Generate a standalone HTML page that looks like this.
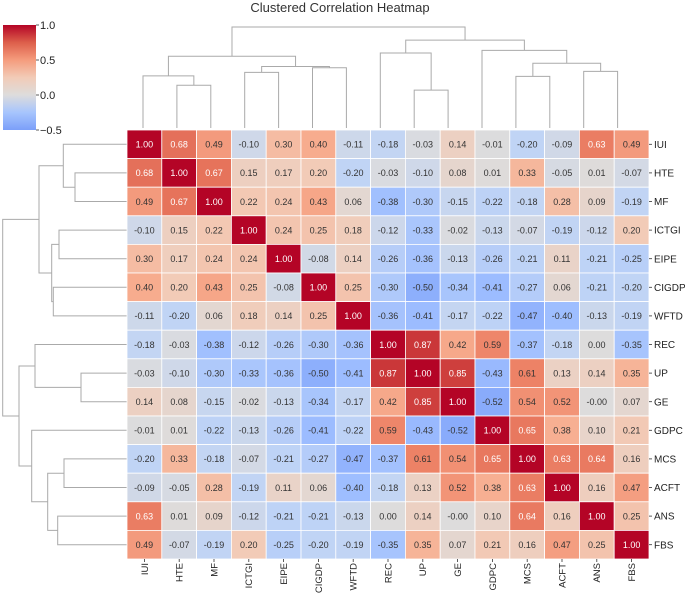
<!DOCTYPE html>
<html><head><meta charset="utf-8">
<style>
html,body{margin:0;padding:0;background:#fff;}
svg{display:block;font-family:"Liberation Sans","DejaVu Sans",sans-serif;}
</style></head>
<body>
<svg id="chart" width="685" height="593" viewBox="0 0 685 593" xmlns="http://www.w3.org/2000/svg">
<defs>
<linearGradient id="cbgrad" x1="0" y1="1" x2="0" y2="0">
<stop offset="0" stop-color="#7b9ff9"/>
<stop offset="0.167" stop-color="#a7c5fd"/>
<stop offset="0.333" stop-color="#dddcdc"/>
<stop offset="0.5" stop-color="#f2cbb7"/>
<stop offset="0.667" stop-color="#f59c7d"/>
<stop offset="0.833" stop-color="#dd5f4b"/>
<stop offset="1" stop-color="#b40426"/>
</linearGradient>
</defs>
<text x="340" y="12" text-anchor="middle" font-size="13" fill="#333">Clustered Correlation Heatmap</text>
<g id="colorbar">
<rect x="3" y="25" width="33" height="105" fill="url(#cbgrad)"/>
</g>
<g id="topdendro"></g>
<g id="leftdendro"></g>
<g id="cells"></g>
<g id="rowlabels"></g>
<g id="collabels"></g>
</svg>
<script>
const labels = ["IUI","HTE","MF","ICTGI","EIPE","CIGDP","WFTD","REC","UP","GE","GDPC","MCS","ACFT","ANS","FBS"];
const matrix = [
[1.00,0.68,0.49,-0.10,0.30,0.40,-0.11,-0.18,-0.03,0.14,-0.01,-0.20,-0.09,0.63,0.49],
[0.68,1.00,0.67,0.15,0.17,0.20,-0.20,-0.03,-0.10,0.08,0.01,0.33,-0.05,0.01,-0.07],
[0.49,0.67,1.00,0.22,0.24,0.43,0.06,-0.38,-0.30,-0.15,-0.22,-0.18,0.28,0.09,-0.19],
[-0.10,0.15,0.22,1.00,0.24,0.25,0.18,-0.12,-0.33,-0.02,-0.13,-0.07,-0.19,-0.12,0.20],
[0.30,0.17,0.24,0.24,1.00,-0.08,0.14,-0.26,-0.36,-0.13,-0.26,-0.21,0.11,-0.21,-0.25],
[0.40,0.20,0.43,0.25,-0.08,1.00,0.25,-0.30,-0.50,-0.34,-0.41,-0.27,0.06,-0.21,-0.20],
[-0.11,-0.20,0.06,0.18,0.14,0.25,1.00,-0.36,-0.41,-0.17,-0.22,-0.47,-0.40,-0.13,-0.19],
[-0.18,-0.03,-0.38,-0.12,-0.26,-0.30,-0.36,1.00,0.87,0.42,0.59,-0.37,-0.18,0.00,-0.35],
[-0.03,-0.10,-0.30,-0.33,-0.36,-0.50,-0.41,0.87,1.00,0.85,-0.43,0.61,0.13,0.14,0.35],
[0.14,0.08,-0.15,-0.02,-0.13,-0.34,-0.17,0.42,0.85,1.00,-0.52,0.54,0.52,-0.001,0.07],
[-0.01,0.01,-0.22,-0.13,-0.26,-0.41,-0.22,0.59,-0.43,-0.52,1.00,0.65,0.38,0.10,0.21],
[-0.20,0.33,-0.18,-0.07,-0.21,-0.27,-0.47,-0.37,0.61,0.54,0.65,1.00,0.63,0.64,0.16],
[-0.09,-0.05,0.28,-0.19,0.11,0.06,-0.40,-0.18,0.13,0.52,0.38,0.63,1.00,0.16,0.47],
[0.63,0.01,0.09,-0.12,-0.21,-0.21,-0.13,0.00,0.14,-0.001,0.10,0.64,0.16,1.00,0.25],
[0.49,-0.07,-0.19,0.20,-0.25,-0.20,-0.19,-0.35,0.35,0.07,0.21,0.16,0.47,0.25,1.00]
];
// linkage: [childA, childB, height]; new node ids start at 15
const linkA = [1,0,3,5,17,16,8,7,11,13,23,10,22,20];
const linkB = [2,15,4,6,18,19,9,21,12,14,24,25,26,27];
const linkH = [53,64.7,69,74.7,76.3,89,47,93,64,70.3,80.3,96.3,109,125.3];
const cbTicks = [1.0,0.5,0.0,-0.5];
const cbTickLabels = ["1.0","0.5","0.0","\u22120.5"];

const NS="http://www.w3.org/2000/svg";
function mk(tag, attrs, parent){const e=document.createElementNS(NS,tag);for(const k in attrs)e.setAttribute(k,attrs[k]);parent.appendChild(e);return e;}
const gx0=127, gx1=649, gy0=130, gy1=559;
const n=labels.length;
const cw=(gx1-gx0)/n, ch=(gy1-gy0)/n;
const xCell=i=>gx0+i*cw, yCell=i=>gy0+i*ch;

const stops=[[59,76,192],[90,120,228],[123,159,249],[158,190,255],[192,212,245],[221,220,220],[242,203,183],[247,172,142],[238,132,104],[214,82,68],[180,4,38]];
function cmap(v){let t=(v+1)/2;t=Math.max(0,Math.min(1,t));const p=t*10;const i=Math.min(9,Math.floor(p));const f=p-i;const a=stops[i],b=stops[i+1];
return "rgb("+a.map((c,k)=>Math.round(c+(b[k]-c)*f)).join(",")+")";}

const cells=document.getElementById('cells');
for(let r=0;r<n;r++){for(let c=0;c<n;c++){
 const v=matrix[r][c];
 const rect=mk('rect',{x:xCell(c),y:yCell(r),width:cw,height:ch,fill:cmap(v),stroke:'#fff','stroke-width':0.8},cells);
 
 
 const t=mk('text',{x:xCell(c)+cw/2,y:yCell(r)+ch/2+3.3,'text-anchor':'middle','font-size':9,fill:(v>=0.62?'#fff':'#333')},cells);
 t.textContent=v.toFixed(2);
 
 
}}

const rl=document.getElementById('rowlabels');
const cl=document.getElementById('collabels');
labels.forEach((lab,i)=>{
 const y=yCell(i)+ch/2;
 mk('line',{x1:gx1,x2:gx1+3,y1:y,y2:y,stroke:'#333','stroke-width':0.8},rl);
 const t=mk('text',{x:gx1+5,y:y+3.6,'font-size':10,fill:'#222'},rl);
 t.textContent=lab;
 
 
 const x=xCell(i)+cw/2;
 mk('line',{x1:x,x2:x,y1:gy1,y2:gy1+3,stroke:'#333','stroke-width':0.8},cl);
 const tc=mk('text',{x:0,y:0,'font-size':9.5,fill:'#222','text-anchor':'end',transform:'translate('+(x+3.4)+','+(gy1+4)+') rotate(-90)'},cl);
 tc.textContent=lab;
 
 
});

// colorbar ticks
const cb=document.getElementById('colorbar');
const cbY=v=>130-(v+0.5)/1.5*105;
cbTicks.forEach((v,i)=>{
 mk('line',{x1:36,x2:39,y1:cbY(v),y2:cbY(v),stroke:'#333','stroke-width':0.8},cb);
 const t=mk('text',{x:40,y:cbY(v)+4,'font-size':11,fill:'#222'},cb);
 t.textContent=cbTickLabels[i];
 
 
});

// dendrograms
function drawDendro(g, leafPos, base, scale, vertical){
 const pos=[],ht=[];
 for(let i=0;i<n;i++){pos[i]=leafPos(i);ht[i]=0;}
 for(let k=0;k<linkA.length;k++){
  const a=linkA[k],b=linkB[k],h=linkH[k],id=n+k;
  pos[id]=(pos[a]+pos[b])/2;ht[id]=h;
  let d;
  if(vertical){const Y=v=>base-v*scale;
   d=`M${pos[a]},${Y(ht[a])}V${Y(h)}H${pos[b]}V${Y(ht[b])}`;}
  else{const X=v=>base-v*scale;
   d=`M${X(ht[a])},${pos[a]}H${X(h)}V${pos[b]}H${X(ht[b])}`;}
  const p=mk('path',{d:d,fill:'none',stroke:'#aaa','stroke-width':1},g);
  
  
 }
}
drawDendro(document.getElementById('topdendro'), i=>143+i*33.9, 128, 101/125.3, true);
drawDendro(document.getElementById('leftdendro'), i=>yCell(i)+ch/2, 128, 1, false);
</script>
</body></html>
